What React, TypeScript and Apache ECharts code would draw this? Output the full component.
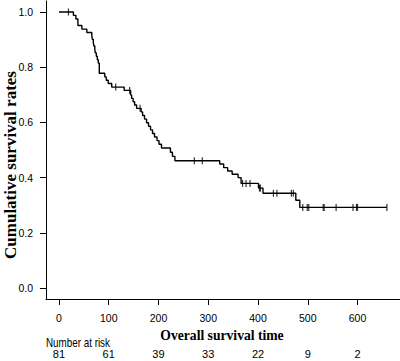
import { useEffect, useRef } from "react";
import * as echarts from "echarts";

// Kaplan–Meier step points: time of each death and survival just after it
const eventTimes = [
  0, 29, 34, 38, 46, 56, 66, 67, 69, 70, 72, 73, 75, 77, 79, 81, 92, 95, 99, 106,
  131, 144, 146, 149, 152, 156, 165, 168, 172, 176, 180, 184, 188, 192, 197, 201,
  206, 224, 228, 233, 323, 331, 339, 348, 360, 366, 401, 410, 476, 484,
];
const survival = [
  1.0, 0.988, 0.975, 0.951, 0.938, 0.926, 0.914, 0.901, 0.889, 0.877, 0.864, 0.852,
  0.84, 0.827, 0.815, 0.778, 0.765, 0.753, 0.741, 0.728, 0.716, 0.699, 0.687, 0.675,
  0.663, 0.651, 0.638, 0.625, 0.612, 0.599, 0.586, 0.573, 0.56, 0.547, 0.534, 0.521,
  0.507, 0.492, 0.477, 0.461, 0.449, 0.436, 0.424, 0.412, 0.4, 0.379, 0.362, 0.343,
  0.318, 0.292,
];
// Censored observations
const censorTimes = [
  19, 114, 142, 163, 272, 288, 369, 376, 384, 403, 405, 431, 438, 467, 471, 490, 499,
  502, 531, 533, 557, 591, 598, 600, 659,
];

const xTicks = [0, 100, 200, 300, 400, 500, 600];
const yTicks = [0, 0.2, 0.4, 0.6, 0.8, 1.0];
const atRisk = [81, 61, 39, 33, 22, 9, 2];

const X_MIN = -26.1;
const X_MAX = 685.4;
const Y_MIN = -0.04;
const Y_MAX = 1.04;

function survivalAt(t: number): number {
  let s = survival[0];
  for (let i = 0; i < eventTimes.length; i++) {
    if (eventTimes[i] <= t) s = survival[i];
  }
  return s;
}

const sans = "'Liberation Sans', Arial, sans-serif";
const serif = "'Liberation Serif', 'Times New Roman', serif";

export default function App() {
  const ref = useRef<HTMLDivElement>(null);

  useEffect(() => {
    if (!ref.current) return;
    const chart = echarts.init(ref.current, null, { renderer: "svg" });

    const lastT = Math.max(...censorTimes);
    const curve = eventTimes.map((t, i) => [t, survival[i]]);
    curve.push([lastT, survivalAt(lastT)]);
    const marks = censorTimes.map((t) => [t, survivalAt(t)]);

    const tickLabel = { color: "#000", fontSize: 10.5, fontFamily: sans };

    chart.setOption({
      animation: false,
      backgroundColor: "#ffffff",
      grid: {
        left: 46,
        right: 0,
        top: 1,
        bottom: 62,
        containLabel: false,
        outerBoundsMode: "none",
      },
      xAxis: [
        {
          type: "value",
          min: X_MIN,
          max: X_MAX,
          position: "bottom",
          splitLine: { show: false },
          axisLine: { show: true, onZero: false, lineStyle: { color: "#000", width: 1 } },
          axisTick: { show: true, customValues: xTicks, length: 6, lineStyle: { color: "#000" } },
          axisLabel: { customValues: xTicks, margin: 13, ...tickLabel },
        },
        {
          // number-at-risk row, aligned with the time ticks
          type: "value",
          min: X_MIN,
          max: X_MAX,
          position: "bottom",
          offset: 36,
          splitLine: { show: false },
          axisLine: { show: false },
          axisTick: { show: false },
          axisLabel: {
            customValues: xTicks,
            margin: 13,
            ...tickLabel,
            fontSize: 11,
            formatter: (v: number) => String(atRisk[xTicks.indexOf(v)]),
          },
        },
      ],
      yAxis: {
        type: "value",
        min: Y_MIN,
        max: Y_MAX,
        splitLine: { show: false },
        axisLine: { show: true, onZero: false, lineStyle: { color: "#000", width: 1 } },
        axisTick: { show: true, customValues: yTicks, length: 6, lineStyle: { color: "#000" } },
        axisLabel: {
          customValues: yTicks,
          margin: 13,
          ...tickLabel,
          formatter: (v: number) => v.toFixed(1),
        },
      },
      graphic: [
        {
          type: "text",
          x: 10,
          y: 165,
          rotation: Math.PI / 2,
          style: {
            text: "Cumulative survival rates",
            font: `bold 17px ${serif}`,
            fill: "#000",
            textAlign: "center",
            textVerticalAlign: "middle",
          },
        },
        {
          type: "text",
          x: 222,
          y: 335,
          scaleX: 0.88,
          style: {
            text: "Overall survival time",
            font: `bold 15.5px ${serif}`,
            fill: "#000",
            textAlign: "center",
            textVerticalAlign: "middle",
          },
        },
        {
          type: "text",
          x: 46,
          y: 343,
          scaleX: 0.82,
          style: {
            text: "Number at risk",
            font: `12px ${sans}`,
            fill: "#000",
            textAlign: "left",
            textVerticalAlign: "middle",
          },
        },
      ],
      series: [
        {
          type: "line",
          step: "end",
          data: curve,
          symbol: "none",
          lineStyle: { color: "#000", width: 1.4 },
        },
        {
          type: "scatter",
          data: marks,
          symbol: "rect",
          symbolSize: [1.2, 7],
          itemStyle: { color: "#000" },
        },
      ],
    });

    return () => chart.dispose();
  }, []);

  return (
    <div
      ref={ref}
      style={{ position: "fixed", left: 0, top: 0, width: 400, height: 361 }}
    />
  );
}
